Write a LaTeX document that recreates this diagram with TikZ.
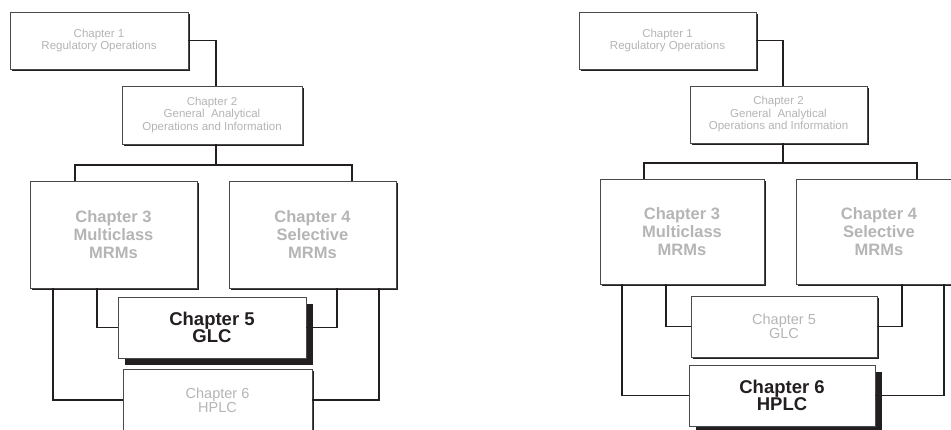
\documentclass[tikz,border=0pt]{standalone}
\usepackage{fontspec}
\setmainfont{Liberation Sans}
\usetikzlibrary{shadows}
\definecolor{inkdark}{HTML}{231F20}
\definecolor{fadedtext}{HTML}{B5B5B5}
\definecolor{edgegray}{HTML}{4A4A4A}
\tikzset{
  basebox/.style={draw=edgegray, line width=0.7pt, fill=white, inner sep=0pt,
    outer sep=0pt, align=center},
  chapbox/.style={basebox, text=fadedtext,
    drop shadow={shadow xshift=1.5pt, shadow yshift=-1.5pt, fill=inkdark, opacity=1}},
  activebox/.style={basebox, text=inkdark,
    font=\fontsize{18.5}{17.5}\selectfont\bfseries,
    drop shadow={shadow xshift=7pt, shadow yshift=-7pt, fill=inkdark, opacity=1}},
  smalltxt/.style={font=\fontsize{11.5}{12.5}\selectfont},
  midtxt/.style={font=\fontsize{14.5}{14}\selectfont},
  bigtxt/.style={font=\fontsize{16.5}{18}\selectfont\bfseries},
  link/.style={draw=inkdark, line width=1.9pt},
}
\begin{document}
\begin{tikzpicture}[x=1pt,y=1pt]
\useasboundingbox (0,0) rectangle (951,-429);
\begin{scope}
\clip (0,0) rectangle (951,-429);
\fill[white] (0,0) rectangle (951,-429);

% ---------- left chart: GLC highlighted ----------
\node[chapbox, smalltxt, minimum width=178pt, minimum height=57pt] (L1) at (99,-40.5)
  {Chapter 1\\Regulatory Operations};
\node[chapbox, smalltxt, minimum width=180pt, minimum height=58pt] (L2) at (212,-115)
  {Chapter 2\\General~\ Analytical\\Operations and Information};
\node[chapbox, bigtxt, minimum width=167pt, minimum height=107pt] (L3) at (113.5,-234.5)
  {Chapter 3\\Multiclass\\MRMs};
\node[chapbox, bigtxt, minimum width=167pt, minimum height=107pt] (L4) at (312.5,-234.5)
  {Chapter 4\\Selective\\MRMs};
\node[chapbox, midtxt, minimum width=189pt, minimum height=62pt] (L6) at (217.5,-400)
  {Chapter 6\\HPLC};
\node[activebox, minimum width=188pt, minimum height=61pt] (L5) at (212,-327.5)
  {Chapter 5\\GLC};

\coordinate (Lbus) at (216,-165);
\draw[link] (L1.east) -| ([xshift=4pt]L2.north);
\draw[link] ([xshift=4pt]L2.south) -- (Lbus);
\draw[link] ([xshift=-38.5pt]L3.north) |- (Lbus) -| ([xshift=39.5pt]L4.north);
\draw[link] ([xshift=-16.5pt]L3.south) |- (L5.west);
\draw[link] ([xshift=-60.5pt]L3.south) |- (L6.west);
\draw[link] ([xshift=24.5pt]L4.south) |- (L5.east);
\draw[link] ([xshift=66.5pt]L4.south) |- (L6.east);

% ---------- right chart: HPLC highlighted ----------
\node[chapbox, smalltxt, minimum width=177pt, minimum height=57pt] (R1) at (667.5,-40.5)
  {Chapter 1\\Regulatory Operations};
\node[chapbox, smalltxt, minimum width=177pt, minimum height=57pt] (R2) at (778.5,-114.5)
  {Chapter 2\\General~\ Analytical\\Operations and Information};
\node[chapbox, bigtxt, minimum width=164pt, minimum height=105pt] (R3) at (682,-231.5)
  {Chapter 3\\Multiclass\\MRMs};
\node[chapbox, bigtxt, minimum width=166pt, minimum height=105pt] (R4) at (879,-231.5)
  {Chapter 4\\Selective\\MRMs};
\node[chapbox, midtxt, minimum width=186pt, minimum height=61pt] (R5) at (784,-326.5)
  {Chapter 5\\GLC};
\node[activebox, minimum width=186pt, minimum height=61pt] (R6) at (782,-395.5)
  {Chapter 6\\HPLC};

\coordinate (Rbus) at (783,-163);
\draw[link] (R1.east) -| ([xshift=4.5pt]R2.north);
\draw[link] ([xshift=4.5pt]R2.south) -- (Rbus);
\draw[link] ([xshift=-38pt]R3.north) |- (Rbus) -| ([xshift=38pt]R4.north);
\draw[link] ([xshift=-16pt]R3.south) |- (R5.west);
\draw[link] ([xshift=-60pt]R3.south) |- (R6.west);
\draw[link] ([xshift=23pt]R4.south) |- (R5.east);
\draw[link] ([xshift=65pt]R4.south) |- (R6.east);
\end{scope}
\end{tikzpicture}
\end{document}
